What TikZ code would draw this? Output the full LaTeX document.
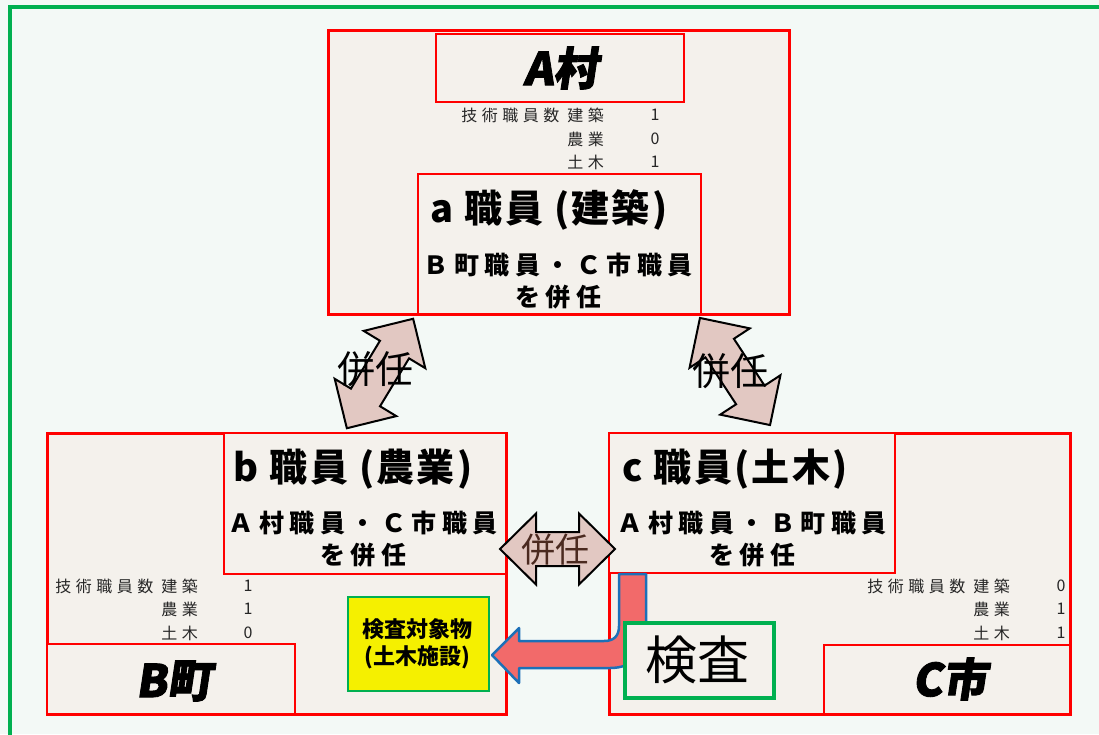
\documentclass[tikz,border=0pt]{standalone}
\usepackage{fontspec}
\usepackage{xcolor}
\newfontfamily\jp{Noto Sans CJK JP}
\newfontfamily\jptab[LetterSpace=28]{Noto Sans CJK JP}
\newfontfamily\jpsub[LetterSpace=22]{Noto Sans CJK JP}
\newfontfamily\jpstaff[LetterSpace=6]{Noto Sans CJK JP}
\newfontfamily\jptitle[FakeSlant=0.15,BoldFeatures={FakeBold=2}]{Noto Sans CJK JP}
\definecolor{bgfill}{HTML}{F3F9F6}
\definecolor{boxfill}{HTML}{F4F1EC}
\definecolor{arrfill}{HTML}{E2C8C2}
\definecolor{brownt}{HTML}{4B2A20}
\definecolor{lfill}{HTML}{F26A6A}
\definecolor{lline}{HTML}{1C70B8}
\definecolor{ygreen}{HTML}{00B050}
\definecolor{yfill}{HTML}{F5F000}
\newcommand\dblarr[4]{%
 \begin{scope}[shift={(#1,#2)},rotate=#3]
 \draw[dbl] (#4,0) -- ({#4-36},36) -- ({#4-36},17) -- ({-#4+36},17) -- ({-#4+36},36) -- (-#4,0) -- ({-#4+36},-36) -- ({-#4+36},-17) -- ({#4-36},-17) -- ({#4-36},-36) -- cycle;
 \end{scope}}
\begin{document}
\begin{tikzpicture}[x=1pt,y=-1pt,
 outer/.style={draw=red,line width=3pt,fill=boxfill,anchor=north west,inner sep=0pt},
 inner/.style={draw=red,line width=2pt,fill=boxfill,anchor=north west,inner sep=0pt},
 ttl/.style={font=\jptitle\bfseries\fontsize{45}{45}\selectfont},
 staff/.style={font=\jpstaff\bfseries\fontsize{38}{38}\selectfont},
 subt/.style={font=\jpsub\bfseries\fontsize{25}{32}\selectfont,align=center},
 tab/.style={font=\jptab\fontsize{16}{16}\selectfont,text=black!85,inner sep=0pt},
 num/.style={font=\jp\fontsize{16}{16}\selectfont,text=black!85,inner sep=0pt},
 dbl/.style={draw=black,line width=2pt,fill=arrfill,line join=miter},
 kenin/.style={font=\jp\fontsize{38}{38}\selectfont},
 ]
\useasboundingbox (0,0) rectangle (1099,734);
\clip (0,0) rectangle (1099,734);
\fill[bgfill] (0,0) rectangle (1099,734);
\draw[ygreen,line width=4pt] (10,760) -- (10,7) -- (1120,7);
% A village
\node[outer,minimum width=461pt,minimum height=284pt] (A) at (327,29) {};
\node[inner,minimum width=248pt,minimum height=68pt] (At) at (435,33) {};
\node[ttl] (Atx) at (561,68) {A村};
\node[tab,anchor=east] (Ar1) at (604,115) {技術職員数 建築};
\node[tab,anchor=east] (Ar2) at (604,139) {農業};
\node[tab,anchor=east] (Ar3) at (604,162) {土木};
\node[num] (An1) at (655,115) {1};
\node[num] (An2) at (655,139) {0};
\node[num] (An3) at (655,162) {1};
\node[inner,minimum width=283pt,minimum height=140pt] (a) at (417,173) {};
\node[staff] (atx) at (549,210) {a 職員 (建築)};
\node[subt] (asub) at (558,281) {Ｂ町職員・Ｃ市職員\\を併任};
% B town
\node[outer,minimum width=459pt,minimum height=281pt] (B) at (46,432) {};
\node[inner,minimum width=282pt,minimum height=141pt] (b) at (223,432) {};
\node[staff] (btx) at (353,469) {b 職員 (農業)};
\node[subt] (bsub) at (363,539) {Ａ村職員・Ｃ市職員\\を併任};
\node[tab,anchor=east] (Br1) at (198,586) {技術職員数 建築};
\node[tab,anchor=east] (Br2) at (198,609) {農業};
\node[tab,anchor=east] (Br3) at (198,633) {土木};
\node[num] (Bn1) at (248,586) {1};
\node[num] (Bn2) at (248,609) {1};
\node[num] (Bn3) at (248,633) {0};
\node[inner,minimum width=248pt,minimum height=70pt] (Bt) at (46,643) {};
\node[ttl] (Btx) at (174,681) {B町};
\node[draw=ygreen,line width=2pt,fill=yfill,anchor=north west,inner sep=0pt,minimum width=141pt,minimum height=94pt] (Y) at (347,596) {};
\node[font=\jp\bfseries\fontsize{22}{27}\selectfont,align=center] (Ytx) at (417,644) {検査対象物\\(土木施設)};
% C city
\node[outer,minimum width=461pt,minimum height=281pt] (C) at (608,432) {};
\node[inner,minimum width=286pt,minimum height=140pt] (c) at (608,432) {};
\node[staff] (ctx) at (735,469) {c 職員(土木)};
\node[subt] (csub) at (752,539) {Ａ村職員・Ｂ町職員\\を併任};
\node[tab,anchor=east] (Cr1) at (1010,586) {技術職員数 建築};
\node[tab,anchor=east] (Cr2) at (1010,609) {農業};
\node[tab,anchor=east] (Cr3) at (1010,633) {土木};
\node[num] (Cn1) at (1061,586) {0};
\node[num] (Cn2) at (1061,609) {1};
\node[num] (Cn3) at (1061,633) {1};
\node[inner,minimum width=246pt,minimum height=69pt] (Ct) at (823,644) {};
\node[ttl] (Ctx) at (950,679) {C市};
% inspection arrow
\draw[fill=lfill,draw=lline,line width=2.5pt,line join=round]
 (519,628) -- (492,655) -- (519,683) -- (519,668) -- (610,668)
 .. controls (632,668) and (646,655) .. (646,632) -- (646,574) -- (619,574) -- (619,626)
 .. controls (619,636) and (614,641) .. (604,641) -- (519,641) -- cycle;
\node[draw=ygreen,line width=4pt,fill=boxfill,anchor=north west,inner sep=0pt,minimum width=149pt,minimum height=75pt] (K) at (623,621) {};
\node[font=\jp\fontsize{52}{52}\selectfont] (Ktx) at (697,660) {検査};
% double arrows
\dblarr{380}{373.5}{58.8}{64}
\dblarr{735}{371.5}{123.2}{64}
\begin{scope}[shift={(557.5,549)}]
\draw[dbl] (57.5,0) -- (21.5,35.5) -- (21.5,17) -- (-21.5,17) -- (-21.5,35.5) -- (-57.5,0) -- (-21.5,-35.5) -- (-21.5,-17) -- (21.5,-17) -- (21.5,-35.5) -- cycle;
\end{scope}
\node[kenin] (k1) at (375,369) {併任};
\node[kenin] (k2) at (730,371) {併任};
\node[kenin,text=brownt,font=\jp\fontsize{34}{34}\selectfont] (k3) at (555,550) {併任};
\end{tikzpicture}
\end{document}
